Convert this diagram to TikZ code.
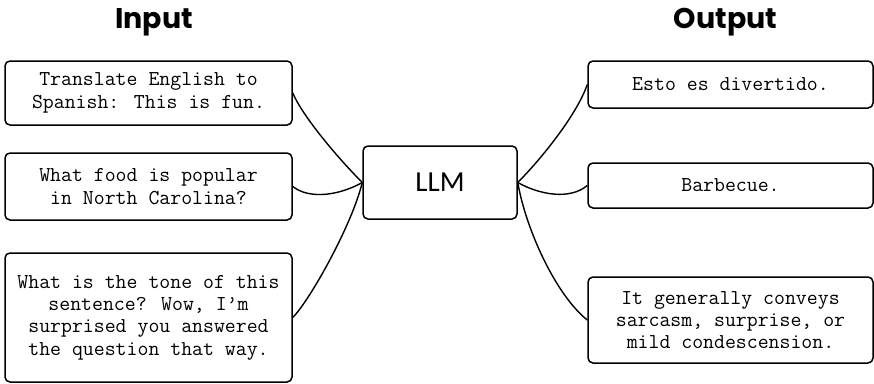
\documentclass[tikz,border=0pt]{standalone}
\usepackage{fontspec}
\newfontfamily\titlefont{Poppins}
\newfontfamily\llmfont{Carlito}
\begin{document}
\begin{tikzpicture}[x=1pt,y=-1pt,
  box/.style={draw, line width=1.5pt, rounded corners=5pt, inner sep=0pt,
    align=center, font=\ttfamily\fontsize{21.2}{22.3}\selectfont},
  inbox/.style={box, minimum width=287pt},
  outbox/.style={box, minimum width=285pt},
  heading/.style={anchor=base, font=\titlefont\bfseries\fontsize{28.5}{32}\selectfont},
  link/.style={line width=1.4pt}]
\useasboundingbox (0,0) rectangle (874,383);

% headings
\node[heading] (hin) at (154,28.5) {Input};
\node[heading] (hout) at (725.5,28.5) {Output};

% central model
\node[box, minimum width=154pt, minimum height=73pt,
  font=\llmfont\fontsize{29}{33}\selectfont] (llm) at (440,182.5) {LLM};

% prompts
\node[inbox, minimum height=64pt] (in1) at (148.5,93)
  {Translate English to\\Spanish: This is fun.};
\node[inbox, minimum height=67pt] (in2) at (148.5,186.5)
  {What food is popular\\in North Carolina?};
\node[inbox, minimum height=129pt] (in3) at (148.5,317.5)
  {What is the tone of this\\sentence? Wow, I’m\\surprised you answered\\the question that way.};

% responses
\node[outbox, minimum height=47pt] (out1) at (730.5,84.5)
  {Esto es divertido.};
\node[outbox, minimum height=45pt] (out2) at (730.5,185.5)
  {Barbecue.};
\node[outbox, minimum height=86pt] (out3) at (730.5,320)
  {It generally conveys\\sarcasm, surprise, or\\mild condescension.};

% connectors into the model
\draw[link] (in1.east) .. controls (302,115) and (335,155) .. (llm.west);
\draw[link] (in2.east) .. controls (310,200) and (340,195) .. (llm.west);
\draw[link] (in3.east) .. controls (310,300) and (352,225) .. (llm.west);

% connectors out of the model
\draw[link] (llm.east) .. controls (545,155) and (578,112) .. (out1.west);
\draw[link] (llm.east) .. controls (540,195) and (570,200) .. (out2.west);
\draw[link] (llm.east) .. controls (526,230) and (556,295) .. (out3.west);
\end{tikzpicture}
\end{document}
